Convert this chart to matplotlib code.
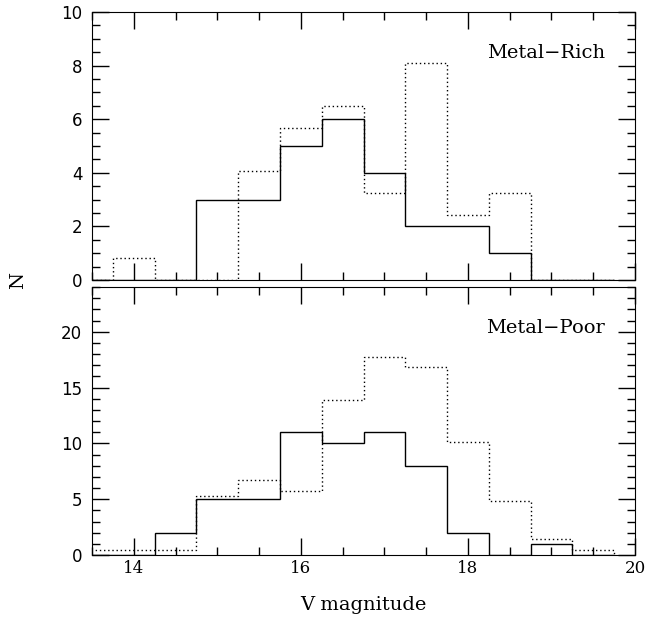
import matplotlib

matplotlib.use("Agg")
import matplotlib.pyplot as plt
import numpy as np
from matplotlib.ticker import MultipleLocator

# bin edges in V magnitude (0.5 mag bins)
edges = [13.25, 13.75, 14.25, 14.75, 15.25, 15.75, 16.25, 16.75,
         17.25, 17.75, 18.25, 18.75, 19.25, 19.75]

rich_obs = [0, 0, 0, 3, 3, 5, 6, 4, 2, 2, 1, 0, 0]
rich_model = [0, 0.81, 0, 0, 4.05, 5.67, 6.48, 3.24, 8.10, 2.43, 3.24, 0, 0]
poor_obs = [0, 0, 2, 5, 5, 11, 10, 11, 8, 2, 0, 1, 0]
poor_model = [0.48, 0.48, 0.48, 5.28, 6.72, 5.76, 13.92, 17.76, 16.8, 10.08, 4.8, 1.44, 0.48]

plt.rcParams["font.family"] = "DejaVu Serif"

fig = plt.figure(figsize=(6.46, 6.23), dpi=100)
ax_top = fig.add_axes([0.1424, 0.5506, 0.8406, 0.4302])
ax_bot = fig.add_axes([0.1424, 0.1091, 0.8406, 0.4302])

panels = [
    (ax_top, rich_obs, rich_model, "Metal\u2212Rich", 10, 2, 0.5),
    (ax_bot, poor_obs, poor_model, "Metal\u2212Poor", 24, 5, 1),
]
for ax, obs, model, label, ymax, major, minor in panels:
    ax.stairs(obs, edges, color="black", lw=1.0)
    ax.stairs(model, edges, color="black", lw=1.0, linestyle=(0, (1, 2)))
    ax.set_xlim(13.5, 20)
    ax.set_ylim(0, ymax)
    ax.xaxis.set_major_locator(MultipleLocator(2))
    ax.xaxis.set_minor_locator(MultipleLocator(0.5))
    ax.yaxis.set_major_locator(MultipleLocator(major))
    ax.yaxis.set_minor_locator(MultipleLocator(minor))
    ax.tick_params(which="both", direction="in", top=True, right=True, labelsize=12)
    ax.tick_params(which="major", length=12, width=1)
    ax.tick_params(which="minor", length=6, width=1)
    ax.tick_params(axis="y", pad=7)
    for t in ax.get_yticklabels():
        t.set_family("DejaVu Sans")
    ax.text(0.945, 0.847, label, transform=ax.transAxes, ha="right", va="center", fontsize=14)

ax_top.tick_params(labelbottom=False)
ax_top.set_yticks([0, 2, 4, 6, 8, 10])
ax_bot.set_yticks([0, 5, 10, 15, 20])
for ax in (ax_top, ax_bot):
    for t in ax.get_yticklabels():
        t.set_family("DejaVu Sans")

ax_bot.set_xlabel("V magnitude", fontsize=14, labelpad=14)
fig.text(0.028, 0.55, "N", rotation=90, ha="center", va="center", fontsize=14)

fig.savefig("out.png", dpi=100)
